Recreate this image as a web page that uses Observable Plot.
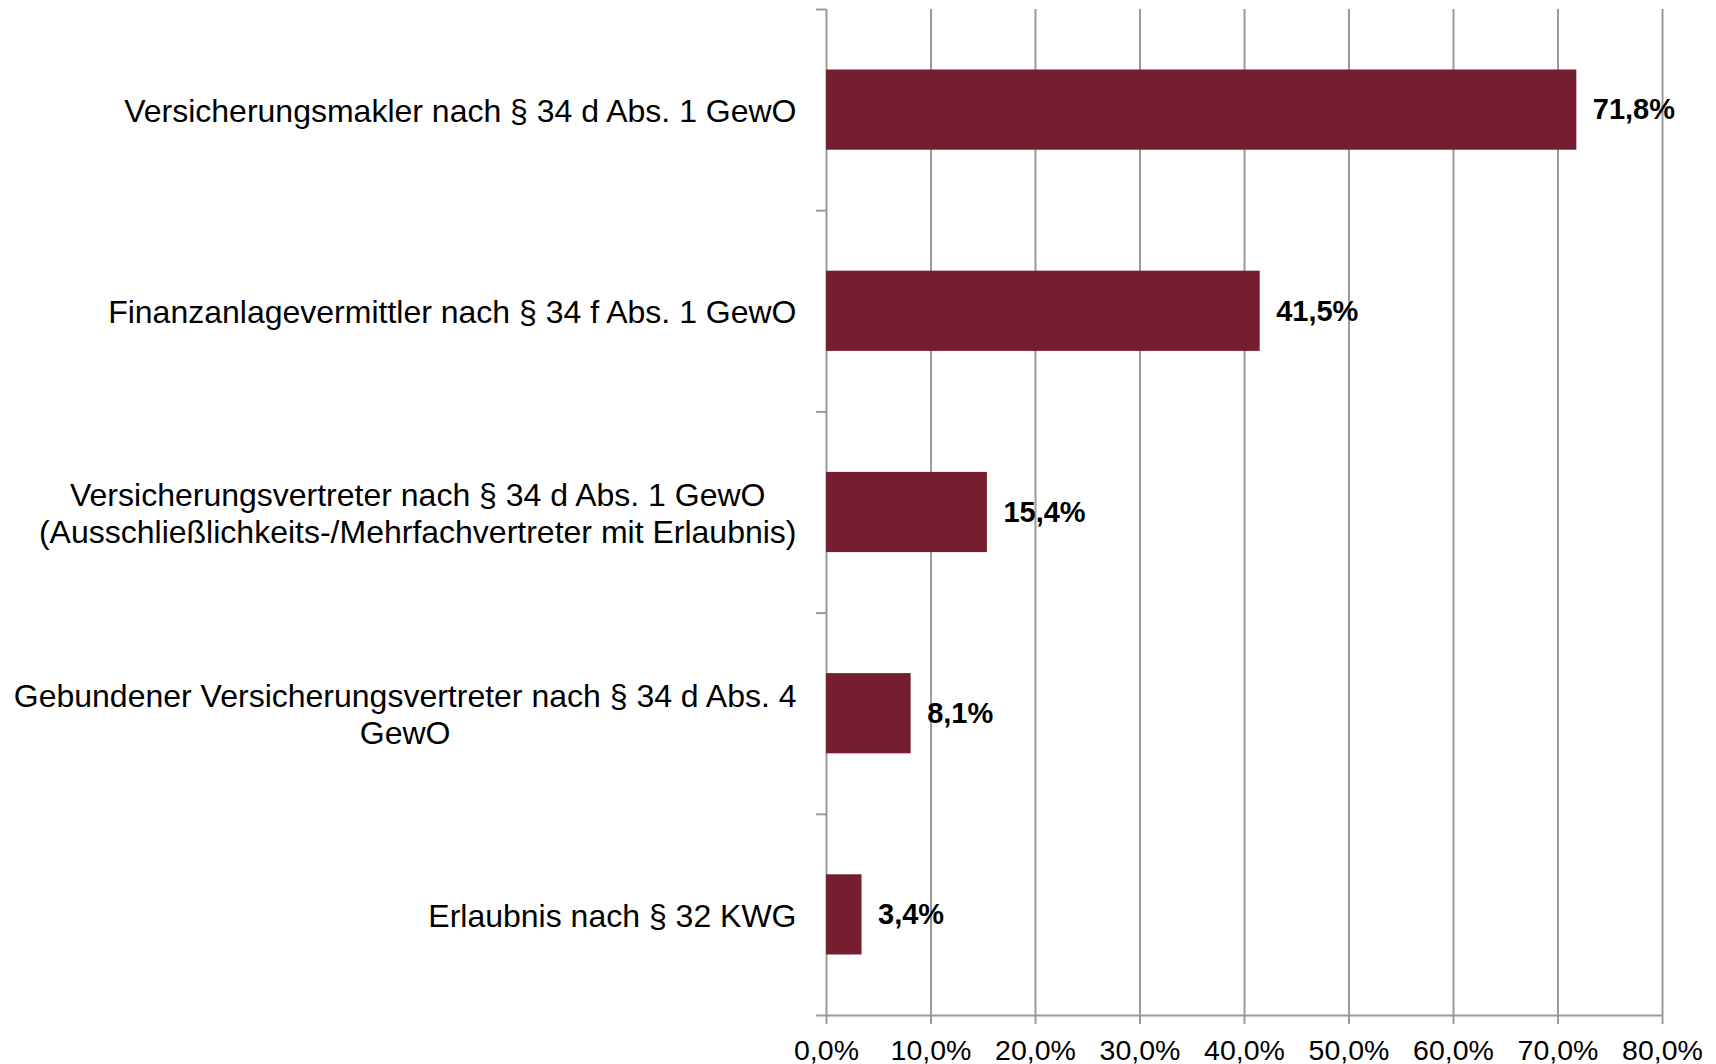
<!DOCTYPE html>
<html>
<head>
<meta charset="utf-8">
<script src="https://cdn.jsdelivr.net/npm/d3@7"></script>
<script src="https://cdn.jsdelivr.net/npm/@observablehq/plot@0.6"></script>
<style>
  html, body { margin: 0; padding: 0; background: #fff; }
  #chart { width: 1716px; height: 1064px; }
</style>
</head>
<body>
<div id="chart"></div>
<script>
const categories = [
  "Versicherungsmakler nach § 34 d Abs. 1 GewO",
  "Finanzanlagevermittler nach § 34 f Abs. 1 GewO",
  "Versicherungsvertreter nach § 34 d Abs. 1 GewO\n(Ausschließlichkeits-/Mehrfachvertreter mit Erlaubnis)",
  "Gebundener Versicherungsvertreter nach § 34 d Abs. 4\nGewO",
  "Erlaubnis nach § 32 KWG"
];
const values = [71.8, 41.5, 15.4, 8.1, 3.4];
const xTicks = [0, 10, 20, 30, 40, 50, 60, 70, 80];
const bandEdges = [0, 1, 2, 3, 4, 5];

const data = categories.map((c, i) => ({cat: c, idx: i, value: values[i]}));
const fmtPct = d => d.toFixed(1).replace(".", ",") + "%";

const gray = "#9a9a9a";
const barColor = "#741E2F";
const font = "'Liberation Sans', Arial, Helvetica, sans-serif";

const plot = Plot.plot({
  width: 1716,
  height: 1064,
  marginLeft: 826,
  marginRight: 54,
  marginTop: 9,
  marginBottom: 49,
  style: {fontFamily: font, fontSize: "28px", color: "#000", background: "#fff", overflow: "visible"},
  x: {domain: [0, 80]},
  y: {domain: [0, 5], reverse: true},
  marks: [
    Plot.ruleX(xTicks, {stroke: gray, strokeWidth: 2}),
    Plot.ruleY([5], {stroke: gray, strokeWidth: 2}),
    Plot.axisX({
      ticks: xTicks,
      tickFormat: fmtPct,
      tickSize: 9,
      tickPadding: 15,
      stroke: gray,
      strokeWidth: 2,
      fill: "#000",
      fontSize: 28.5,
      label: null
    }),
    Plot.axisY({
      ticks: bandEdges,
      tickSize: 10,
      tickFormat: () => "",
      stroke: gray,
      strokeWidth: 2,
      label: null
    }),
    Plot.rectX(data, {
      x1: 0,
      x2: "value",
      y1: d => d.idx,
      y2: d => d.idx + 1,
      insetTop: 60.5,
      insetBottom: 60.5,
      fill: barColor
    }),
    Plot.text(data, {
      x: "value",
      y: d => d.idx + 0.5,
      text: d => fmtPct(d.value),
      textAnchor: "start",
      dx: 16,
      fontSize: 29,
      fontWeight: "bold",
      fill: "#000"
    }),
    Plot.text(data, {
      x: 0,
      y: d => d.idx + 0.5,
      text: "cat",
      textAnchor: "end",
      lineAnchor: "middle",
      lineHeight: 1.17,
      dx: -30,
      fontSize: 32,
      fill: "#000"
    })
  ]
});

document.getElementById("chart").appendChild(plot);

// Center multi-line category labels within their right-aligned block
plot.querySelectorAll("text").forEach(t => {
  const spans = t.querySelectorAll("tspan");
  if (spans.length < 2) return;
  let maxW = 0;
  spans.forEach(s => { maxW = Math.max(maxW, s.getComputedTextLength()); });
  t.setAttribute("text-anchor", "middle");
  t.style.textAnchor = "middle";
  spans.forEach(s => {
    s.setAttribute("x", -maxW / 2);
    s.setAttribute("text-anchor", "middle");
  });
});
</script>
</body>
</html>
